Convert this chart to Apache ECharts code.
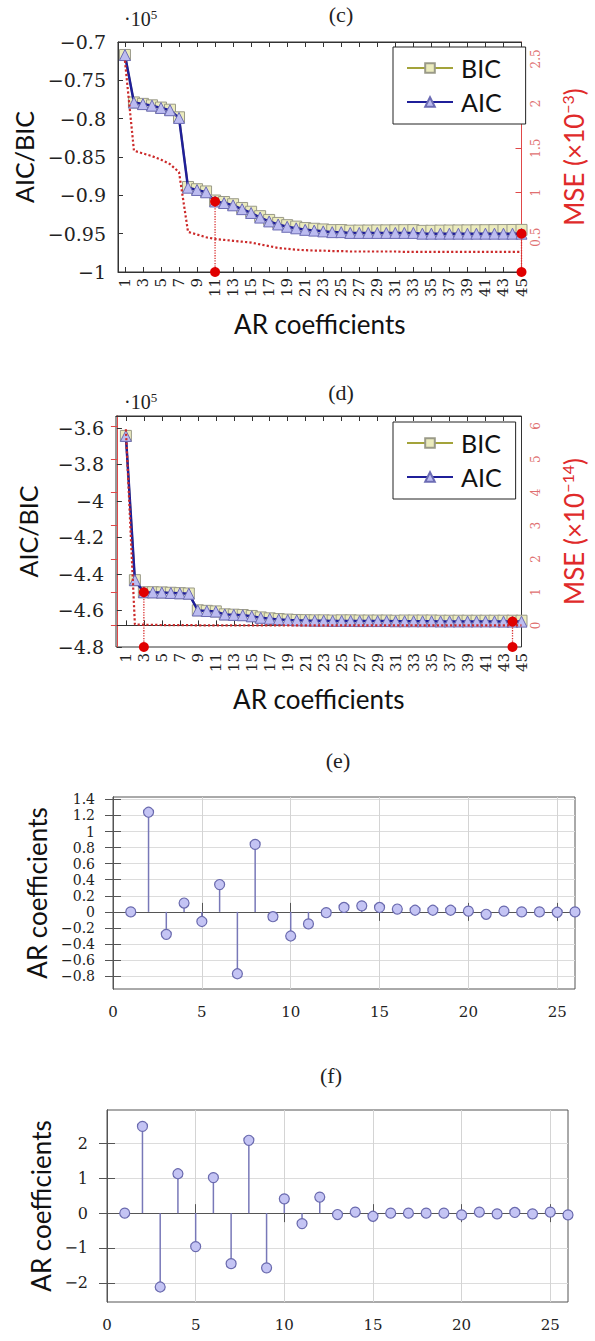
<!DOCTYPE html>
<html><head><meta charset="utf-8">
<script src="https://cdn.jsdelivr.net/npm/echarts@6/dist/echarts.min.js"></script>
<style>html,body{margin:0;padding:0;background:#fff}#chart{width:595px;height:1341px}</style>
</head><body><div id="chart"></div>
<script>
// ---------- data ----------
const arOrders = [1,2,3,4,5,6,7,8,9,10,11,12,13,14,15,16,17,18,19,20,21,22,23,24,25,26,27,28,29,30,31,32,33,34,35,36,37,38,39,40,41,42,43,44,45];
const orderTicks = [1,3,5,7,9,11,13,15,17,19,21,23,25,27,29,31,33,35,37,39,41,43,45];

// panel (c)
const cAIC = [-0.717,-0.779,-0.781,-0.783,-0.786,-0.789,-0.799,-0.890,-0.893,-0.896,-0.908,-0.910,-0.913,-0.918,-0.923,-0.929,-0.934,-0.938,-0.941,-0.943,-0.945,-0.946,-0.947,-0.948,-0.948,-0.949,-0.949,-0.949,-0.949,-0.949,-0.949,-0.949,-0.949,-0.950,-0.950,-0.950,-0.950,-0.950,-0.950,-0.950,-0.950,-0.950,-0.950,-0.950,-0.950];
const cBIC = [-0.7169,-0.7788,-0.7807,-0.7826,-0.7855,-0.7883,-0.7982,-0.8891,-0.8920,-0.8949,-0.9068,-0.9087,-0.9116,-0.9165,-0.9214,-0.9272,-0.9321,-0.9360,-0.9389,-0.9408,-0.9427,-0.9436,-0.9445,-0.9454,-0.9453,-0.9461,-0.9460,-0.9459,-0.9458,-0.9457,-0.9456,-0.9455,-0.9454,-0.9463,-0.9462,-0.9460,-0.9459,-0.9458,-0.9457,-0.9456,-0.9455,-0.9454,-0.9453,-0.9452,-0.9451];
const cMSE = [2.48,1.47,1.44,1.41,1.37,1.32,1.23,0.56,0.53,0.50,0.48,0.47,0.46,0.45,0.44,0.42,0.40,0.38,0.37,0.36,0.355,0.35,0.35,0.345,0.345,0.34,0.34,0.34,0.34,0.34,0.34,0.335,0.335,0.335,0.335,0.335,0.335,0.335,0.335,0.335,0.335,0.335,0.335,0.335,0.335];
const cSelected = [11, 45];
const cLeftTicks = [-1,-0.95,-0.9,-0.85,-0.8,-0.75,-0.7];
const cRightTicks = [0.5,1,1.5,2,2.5];

// panel (d)
const dAIC = [-3.644,-4.434,-4.500,-4.501,-4.502,-4.504,-4.506,-4.508,-4.600,-4.603,-4.606,-4.622,-4.624,-4.626,-4.632,-4.640,-4.645,-4.649,-4.652,-4.654,-4.655,-4.656,-4.656,-4.657,-4.657,-4.657,-4.658,-4.658,-4.658,-4.658,-4.659,-4.659,-4.659,-4.659,-4.659,-4.660,-4.660,-4.660,-4.660,-4.660,-4.660,-4.660,-4.661,-4.661,-4.661];
const dBIC = [-3.644,-4.434,-4.500,-4.500,-4.501,-4.503,-4.505,-4.507,-4.599,-4.602,-4.605,-4.621,-4.623,-4.625,-4.630,-4.638,-4.643,-4.647,-4.650,-4.652,-4.653,-4.654,-4.654,-4.655,-4.654,-4.654,-4.655,-4.655,-4.655,-4.655,-4.656,-4.655,-4.655,-4.655,-4.655,-4.656,-4.656,-4.656,-4.656,-4.656,-4.656,-4.656,-4.656,-4.656,-4.656];
const dMSE = [5.9,0.03,0.02,0.02,0.01,0.01,0.01,0.01,0,0,0,0,0,0,0,0,0,0,0,0,0,0,0,0,0,0,0,0,0,0,0,0,0,0,0,0,0,0,0,0,0,0,0,0,0];
const dSelected = [3, 44];
const dLeftTicks = [-4.8,-4.6,-4.4,-4.2,-4,-3.8,-3.6];
const dRightTicks = [0,1,2,3,4,5,6];

// panels (e), (f)
const lags = [1,2,3,4,5,6,7,8,9,10,11,12,13,14,15,16,17,18,19,20,21,22,23,24,25,26];
const eCoef = [0.00,1.24,-0.28,0.11,-0.12,0.34,-0.77,0.84,-0.06,-0.30,-0.15,-0.01,0.055,0.075,0.055,0.035,0.02,0.02,0.02,0.01,-0.03,0.01,0.00,0.00,-0.005,0.00];
const fCoef = [0.00,2.49,-2.12,1.13,-0.96,1.02,-1.45,2.09,-1.57,0.41,-0.30,0.46,-0.04,0.03,-0.09,0.00,0.00,0.00,0.00,-0.05,0.03,-0.02,0.02,-0.02,0.03,-0.05];
const lagTicks = [0,5,10,15,20,25];
const eYTicks = [-0.8,-0.6,-0.4,-0.2,0,0.2,0.4,0.6,0.8,1,1.2,1.4];
const fYTicks = [-2,-1,0,1,2];

// ---------- build ----------
const SERIF = 'DejaVu Serif';
const TITLE_SERIF = 'Liberation Serif';
const SANS = 'Lato';
const RED = '#e04848';
const minus = v => String(v).replace('-', '\u2212');
const zip = (xs, ys) => xs.map((x, i) => [x, ys[i]]);

const grids = [
  {left:118, top:42, width:407, height:230},
  {left:116, top:416, width:407, height:231},
  {left:113, top:797, width:462, height:192},
  {left:107, top:1110, width:461, height:192}
];
grids.forEach(g => { g.show = true; g.borderColor = '#333'; g.borderWidth = 1; g.containLabel = false; });
grids[2].borderColor = '#555'; grids[3].borderColor = '#555';

function aicXAxes(gi, min) {
  return [
    {gridIndex:gi, type:'value', min:min, max:45, position:'bottom',
     axisLine:{lineStyle:{color:'#333'}},
     axisTick:{inside:true, length:5, customValues:orderTicks, lineStyle:{color:'#333'}},
     axisLabel:{customValues:orderTicks, rotate:90, margin:6, fontFamily:SERIF, fontSize:15, color:'#222'},
     splitLine:{show:false},
     name:'AR coefficients', nameLocation:'middle', nameGap:39,
     nameTextStyle:{fontFamily:SANS, fontSize:26, color:'#111'}},
    {gridIndex:gi, type:'value', min:min, max:45, position:'top',
     axisLine:{lineStyle:{color:'#333'}},
     axisTick:{inside:true, length:5, customValues:orderTicks, lineStyle:{color:'#333'}},
     axisLabel:{show:false}, splitLine:{show:false}}
  ];
}
function aicYAxes(gi, lmin, lmax, lticks, rmin, rmax, rticks, expo) {
  return [
    {gridIndex:gi, type:'value', min:lmin, max:lmax, position:'left',
     axisLine:{lineStyle:{color:'#333'}},
     axisTick:{inside:true, length:5, customValues:lticks, lineStyle:{color:'#333'}},
     axisLabel:{customValues:lticks, formatter:minus, margin:12, fontFamily:SERIF, fontSize:19, color:'#222',
       showMinLabel:true, showMaxLabel:true},
     splitLine:{show:false},
     name:'AIC/BIC', nameLocation:'middle', nameGap:76,
     nameTextStyle:{fontFamily:SANS, fontSize:25, color:'#111'}},
    {gridIndex:gi, type:'value', min:rmin, max:rmax, position:'right',
     axisLine:{lineStyle:{color:RED}},
     axisTick:{inside:true, length:6, customValues:rticks, lineStyle:{color:RED}},
     axisLabel:{customValues:rticks, rotate:90, margin:8, fontFamily:SERIF, fontSize:12, color:'#e07070',
       showMinLabel:true, showMaxLabel:true},
     splitLine:{show:false},
     name:'MSE (\u00d710{s|\u2212' + expo + '})', nameLocation:'middle', nameGap:38,
     nameTextStyle:{fontFamily:SANS, fontSize:26, color:'#e02a2a',
       rich:{s:{fontFamily:SANS, fontSize:16, color:'#e02a2a', padding:[0,0,13,0]}}}}
  ];
}
function stemXAxes(gi) {
  return [
    {gridIndex:gi, type:'value', min:0, max:26, position:'bottom',
     axisLine:{lineStyle:{color:'#555'}},
     axisTick:{inside:false, length:9, customValues:lagTicks, lineStyle:{color:'#555'}},
     axisLabel:{customValues:lagTicks, margin:15, fontFamily:SERIF, fontSize:15, color:'#222',
       showMinLabel:true, showMaxLabel:true},
     splitLine:{show:true, lineStyle:{color:'#d4d4d4'}}},
    {gridIndex:gi, type:'value', min:0, max:26, position:'top',
     axisLine:{lineStyle:{color:'#555'}},
     axisTick:{inside:false, length:9, customValues:lagTicks, lineStyle:{color:'#555'}},
     axisLabel:{show:false}, splitLine:{show:false}}
  ];
}
function stemYAxes(gi, min, max, ticks, gap, fs, margin) {
  return [
    {gridIndex:gi, type:'value', min:min, max:max, position:'left',
     axisLine:{lineStyle:{color:'#555'}},
     axisTick:{inside:false, length:8, customValues:ticks, lineStyle:{color:'#555'}},
     axisLabel:{customValues:ticks, formatter:minus, margin:margin, fontFamily:SERIF, fontSize:fs, color:'#222',
       lineHeight:fs, showMinLabel:true, showMaxLabel:true},
     splitLine:{show:true, lineStyle:{color:'#dcdcdc'}},
     name:'AR coefficients', nameLocation:'middle', nameGap:gap,
     nameTextStyle:{fontFamily:SANS, fontSize:26, color:'#111'}},
    {gridIndex:gi, type:'value', min:min, max:max, position:'right',
     axisLine:{lineStyle:{color:'#555'}},
     axisTick:{inside:false, length:8, customValues:ticks, lineStyle:{color:'#555'}},
     axisLabel:{show:false}, splitLine:{show:false}}
  ];
}

const xAxis = [].concat(aicXAxes(0, 0.23), aicXAxes(1, -0.1), stemXAxes(2), stemXAxes(3));
const yAxis = [].concat(
  aicYAxes(0, -1, -0.7, cLeftTicks, 0.11, 2.69, cRightTicks, 3),
  aicYAxes(1, -4.8, -3.535, dLeftTicks, -0.65, 6.3, dRightTicks, 14),
  stemYAxes(2, -0.96, 1.43, eYTicks, 56, 14, 18),
  stemYAxes(3, -2.55, 2.96, fYTicks, 44, 16, 19)
);

function aicSeries(xi, yl, yr, aic, bic, mse, selected, bottom) {
  const s = [
    {name:'BIC', type:'line', xAxisIndex:xi, yAxisIndex:yl, data:zip(arOrders, bic),
     symbol:'rect', symbolSize:11, lineStyle:{color:'#a3a33a', width:2},
     itemStyle:{color:'#ebebbd', borderColor:'#9a9a88', borderWidth:1}, z:2, animation:false},
    {name:'AIC', type:'line', xAxisIndex:xi, yAxisIndex:yl, data:zip(arOrders, aic),
     symbol:'triangle', symbolSize:11, lineStyle:{color:'#1f1f99', width:2.5},
     itemStyle:{color:'#bcbcf0', borderColor:'#6c6cb4', borderWidth:1}, z:3, animation:false},
    {name:'MSE', type:'line', xAxisIndex:xi, yAxisIndex:yr, data:zip(arOrders, mse),
     symbol:'none', lineStyle:{color:'#cc2a2a', width:2.2, type:'dotted'}, z:4, animation:false}
  ];
  selected.forEach(k => {
    s.push({name:'sel', type:'line', xAxisIndex:xi, yAxisIndex:yl, clip:false,
      data:[[k, bottom], [k, aic[arOrders.indexOf(k)]]],
      symbol:'circle', symbolSize:10, itemStyle:{color:'#e00000'},
      lineStyle:{color:'#d83030', width:1.3, type:'dotted'}, z:6, animation:false});
  });
  return s;
}
function stemSeries(xi, yi, coef) {
  return [
    {type:'bar', xAxisIndex:xi, yAxisIndex:yi, data:zip(lags, coef), barWidth:1.5,
     itemStyle:{color:'#7878b8'}, animation:false, z:2},
    {type:'scatter', xAxisIndex:xi, yAxisIndex:yi, data:zip(lags, coef), symbolSize:10,
     itemStyle:{color:'#c4c4f4', borderColor:'#6a6aae', borderWidth:1.2, opacity:1}, animation:false, z:3}
  ];
}

const series = [].concat(
  aicSeries(0, 0, 1, cAIC, cBIC, cMSE, cSelected, cLeftTicks[0]),
  aicSeries(2, 2, 3, dAIC, dBIC, dMSE, dSelected, dLeftTicks[0]),
  stemSeries(4, 4, eCoef),
  stemSeries(6, 6, fCoef)
);

function legendAt(left, top, padR) {
  return {orient:'vertical', left:left, top:top, data:['BIC','AIC'],
    itemWidth:46, itemHeight:12, itemGap:8,
    backgroundColor:'#fff', borderColor:'#222', borderWidth:1, padding:[8, padR, 9, 13],
    textStyle:{fontFamily:SANS, fontSize:25, color:'#111', lineHeight:26, padding:[0,0,0,3]},
    selectedMode:false};
}

function txt(x, y, text, size, align, rich) {
  return {type:'text', x:x, y:y, z:10, style:{text:text, fontFamily:TITLE_SERIF, fontSize:size,
    fill:'#222', align:align, verticalAlign:'middle', rich:rich}};
}
const supRich = {s:{fontFamily:TITLE_SERIF, fontSize:13, fill:'#222', color:'#222', padding:[0,0,9,0]}};

const option = {
  animation:false,
  textStyle:{fontFamily:SERIF},
  grid:grids, xAxis:xAxis, yAxis:yAxis, series:series,
  legend:[legendAt(393, 47, 24), legendAt(393, 422, 14)],
  graphic:[
    txt(341, 14, '(c)', 22, 'center'),
    txt(341, 392, '(d)', 22, 'center'),
    txt(338, 760, '(e)', 22, 'center'),
    txt(331, 1075, '(f)', 22, 'center'),
    txt(124, 19, '\u00b710{s|5}', 20, 'left', supRich),
    txt(124, 402, '\u00b710{s|5}', 20, 'left', supRich)
  ]
};

const chart = echarts.init(document.getElementById('chart'), null, {renderer:'svg', width:595, height:1341});
chart.setOption(option);
</script></body></html>
